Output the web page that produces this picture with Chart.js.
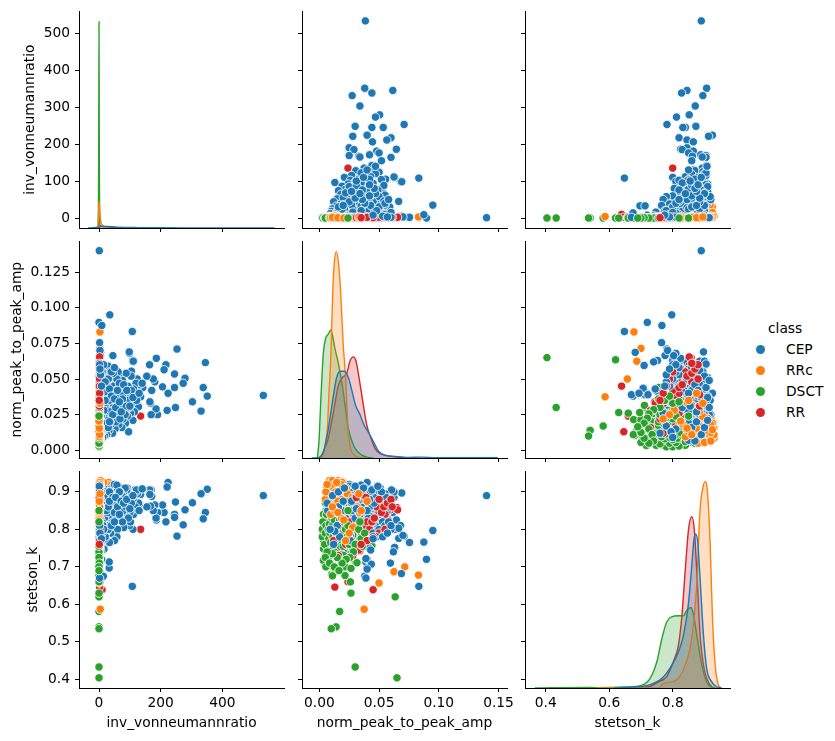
<!DOCTYPE html>
<html>
<head>
<meta charset="utf-8">
<title>pairplot</title>
<script src="https://cdn.jsdelivr.net/npm/chart.js@4"></script>
<style>
  body { margin: 0; background: #fff; font-family: "DejaVu Sans", sans-serif; color: #000; }
  canvas { position: absolute; }
  .leg { position: absolute; font-size: 13.8px; line-height: 16px; white-space: nowrap; }
  .dot { position: absolute; width: 9px; height: 9px; border-radius: 50%; }
</style>
</head>
<body>
<div id="page" style="position:relative;width:835px;height:741px;overflow:hidden"></div>
<script>
// inv_vonneumannratio, norm_peak_to_peak_amp, stetson_k per class (same index = same star)
var cepInv = [533,351,345,338,331,303,279,273,253,248,
  245,245,224,221,217,211,206,190,186,185,
  181,176,171,169,167,164,165,155,142,135,
  131,124,112,108,105,110,99,98,111,1,
  0,9,35,2,5,4,3,2,2,1,
  45,75,52,51,128,125,120,118,115,112,
  110,106,104,102,100,98,96,94,92,90,
  88,86,84,82,80,78,76,74,72,70,
  68,66,64,62,60,58,56,54,52,50,
  48,46,44,42,40,38,36,34,33,33,
  32,30,28,26,25,24,22,21,20,18,
  17,16,15,14,14,12,11,10,9,8,
  8,7,6,6,5,5,4,4,3,3,
  3,2,2,2,2,1,1,1,1,12,
  20,30,6,35,45,50,58,85,122,140,
  15,25,35,45,55,65,75,85,95,105,
  18,28,38,48,58,68,78,88,12,22,
  10,16,26,36,46,56,66,76,6,4,
  5,8,12,15,18,22,25,28,32,36,
  3,6,10,14,18,24,28,34,40,44,
  2,4,7,10,13,16,20,24,30,34,
  1,2,3,5,8,1,2,3,1,2,
  50,54,60,66,72,80,90,100,110,130,
  1,2,1,3,1,1,2,1,2,1,
  30,40,20,10,15,50,5,2,3,8];
var cepAmp = [.0385,.038,.0615,.044,.0275,.034,.0505,.047,.071,.03,
  .0535,.044,.04,.028,.06,.0565,.0445,.025,.0645,.029,
  .048,.05,.042,.025,.033,.06,.034,.052,.044,.0375,
  .046,.05,.0625,.0833,.0555,.063,.068,.069,.0625,.14,
  .0897,.0875,.095,.0755,.0687,.0665,.07,.063,.062,.0595,
  .0664,.0525,.0547,.047,.0305,.04,.047,.036,.027,.043,
  .021,.033,.052,.026,.039,.03,.013,.045,.024,.035,
  .054,.019,.028,.041,.032,.022,.049,.016,.037,.026,
  .043,.031,.018,.055,.024,.036,.028,.047,.015,.033,
  .021,.04,.012,.029,.051,.018,.035,.024,.04,.039,
  .014,.045,.022,.031,.011,.054,.017,.037,.027,.01,
  .043,.0425,.02,.038,.033,.009,.05,.025,.015,.04,
  .03,.0125,.055,.02,.035,.008,.045,.0415,.018,.028,
  .0435,.01,.05,.023,.039,.04,.039,.043,.015,.06,
  .057,.059,.0605,.055,.03,.025,.035,.038,.035,.047,
  .034,.04,.03,.045,.02,.038,.03,.025,.035,.042,
  .048,.036,.042,.028,.05,.022,.04,.031,.028,.044,
  .035,.022,.048,.02,.054,.042,.047,.036,.05,.025,
  .022,.027,.017,.03,.025,.03,.021,.028,.035,.027,
  .036,.043,.047,.052,.041,.046,.05,.043,.038,.025,
  .03,.033,.024,.02,.015,.028,.035,.019,.016,.02,
  .045,.053,.056,.058,.052,.012,.017,.013,.035,.026,
  .036,.03,.042,.034,.027,.046,.042,.031,.037,.04,
  .011,.007,.0065,.016,.009,.021,.03,.037,.044,.049,
  .05,.055,.048,.055,.06,.058,.053,.06,.057,.045];
var cepK = [.89,.907,.845,.828,.895,.871,.852,.812,.782,.873,
  .84,.832,.925,.913,.82,.845,.865,.845,.825,.83,
  .865,.85,.888,.905,.862,.905,.893,.86,.907,.893,
  .868,.898,.885,.648,.838,.8,.81,.897,.9,.89,
  .72,.766,.797,.765,.682,.776,.784,.752,.74,.71,
  .803,.88,.86,.85,.87,.895,.9,.86,.905,.84,
  .88,.885,.85,.82,.845,.895,.875,.86,.91,.905,
  .87,.865,.84,.885,.805,.895,.845,.88,.91,.86,
  .825,.875,.85,.895,.8,.78,.905,.86,.87,.77,
  .84,.88,.86,.825,.91,.79,.85,.765,.697,.713,
  .895,.87,.815,.9,.845,.83,.875,.795,.855,.8,
  .815,.747,.91,.675,.835,.83,.86,.885,.775,.72,
  .805,.855,.87,.74,.785,.81,.89,.75,.825,.895,
  .707,.875,.84,.86,.67,.694,.722,.745,.8,.87,
  .85,.875,.905,.895,.91,.92,.918,.91,.905,.908,
  .87,.84,.83,.82,.855,.865,.89,.875,.83,.87,
  .9,.88,.87,.86,.89,.9,.85,.86,.845,.855,
  .81,.83,.795,.9,.865,.835,.9,.82,.9,.915,
  .85,.87,.84,.895,.9,.87,.88,.85,.865,.89,
  .88,.86,.875,.89,.83,.885,.845,.9,.88,.885,
  .83,.81,.795,.82,.81,.785,.775,.85,.86,.875,
  .79,.82,.885,.86,.9,.76,.78,.795,.76,.77,
  .845,.885,.86,.84,.875,.87,.88,.855,.89,.85,
  .89,.85,.87,.9,.8,.91,.915,.91,.905,.915,
  .8,.81,.78,.79,.8,.82,.78,.81,.79,.775];

var rrcInv = [3,3,3,1,4,31,35,2,2,1,
  1,2,1,1,1,0,3,1,5,2,
  0,1,4,2,1,0,6,2,1,3,
  0,2,1,8,1,3,0,2,1,4,
  2,1,0,12,3,1,2,0,5,1,
  2,0,1,3,15,1,2,0,1,1,
  2,0,1,3,0,1,2,4,1,0,
  1,2,0,1,3,0,1,2,0,1,
  2,4,1,0,2,1,3,0,1,5,
  2,1,0,3,1,2,0,1,7,2,
  1,0,2,1,0,1,2,0,1,1,
  2,1,0,1,0,2,1,0,1,3];
var rrcAmp = [.083,.0715,.0625,.05,.0375,.02,.018,.02,.016,.0085,
  .0155,.013,.029,.016,.01,.012,.014,.018,.011,.0085,
  .0065,.0095,.017,.021,.0125,.014,.0155,.019,.0105,.0075,
  .0175,.0135,.012,.016,.02,.0105,.008,.0225,.0145,.013,
  .015,.0245,.011,.019,.0175,.007,.024,.0165,.0205,.006,
  .0125,.0095,.026,.0225,.014,.0115,.018,.027,.031,.015,
  .0205,.012,.023,.019,.0155,.0135,.0095,.021,.017,.0085,
  .008,.01,.012,.014,.016,.018,.02,.022,.024,.007,
  .009,.011,.013,.015,.017,.019,.021,.006,.016,.018,
  .012,.014,.01,.0085,.0125,.0145,.0165,.0185,.0135,.0155,
  .005,.0055,.0065,.0225,.0235,.0275,.0315,.0335,.028,.025,
  .035,.022,.0185,.0095,.013,.011,.0155,.0205,.04,.033];
var rrcK = [.678,.7,.687,.657,.587,.925,.918,.91,.905,.876,
  .893,.918,.89,.796,.9,.905,.91,.895,.92,.93,
  .885,.91,.925,.9,.895,.885,.93,.915,.865,.9,
  .875,.88,.925,.92,.87,.89,.915,.885,.9,.905,
  .86,.875,.91,.928,.89,.895,.905,.92,.91,.91,
  .87,.855,.865,.92,.925,.88,.85,.84,.83,.82,
  .81,.84,.76,.78,.855,.915,.925,.895,.9,.89,
  .9,.88,.87,.875,.885,.905,.89,.895,.885,.905,
  .92,.93,.9,.915,.91,.925,.88,.895,.86,.92,
  .91,.885,.89,.885,.92,.925,.895,.88,.9,.875,
  .88,.9,.92,.91,.895,.885,.86,.845,.805,.79,
  .85,.77,.83,.84,.85,.86,.845,.825,.875,.895];

var dsctInv = [0,0,0,0,0,0,0,0,0,0,
  0,0,0,0,1,0,0,1,0,0,
  0,1,0,1,0,0,2,0,0,1,
  0,0,0,0,0,1,0,0,1,0,
  0,2,0,0,1,0,1,0,0,2,
  0,1,0,0,1,0,3,0,1,0,
  0,2,0,1,0,0,1,0,0,0,
  1,0,0,2,0,0,1,0,0,0,
  0,1,0,0,0,2,0,0,1,0,
  0,1,0,0,1,0,0,2,0,1,
  0,0,1,0,0,2,0,1,0,0,
  1,0,0,2,0,1,0,0,1,0,
  0,2,0,1,0,0,1,0,0,2,
  0,1,0,0,1,0,0,1,0,0,
  0,1,0,0,1,0,0,1,0,0];
var dsctAmp = [.065,.03,.014,.01,.017,.0635,.0265,.026,.0215,.0103,
  .013,.0034,.01,.0215,.03,.0095,.044,.031,.0235,.016,
  .0045,.0117,.0165,.0215,.0257,.0034,.0042,.011,.0215,.0187,
  .0053,.0103,.0315,.0265,.011,.0105,.025,.032,.0265,.022,
  .016,.017,.01,.0035,.0035,.0045,.0125,.006,.008,.007,
  .0055,.009,.012,.014,.015,.018,.02,.006,.003,.004,
  .007,.013,.009,.0185,.0225,.024,.0105,.0135,.0075,.015,
  .005,.004,.0165,.0195,.0125,.0085,.0275,.029,.0065,.011,
  .0035,.0145,.0205,.0175,.0055,.008,.012,.0035,.0155,.006,
  .0025,.0025,.003,.0045,.005,.0055,.006,.007,.0075,.008,
  .0085,.009,.0095,.0105,.011,.0115,.012,.0125,.013,.0135,
  .014,.0145,.015,.0155,.016,.0165,.017,.0175,.018,.0185,
  .019,.0195,.02,.0205,.021,.022,.023,.024,.025,.026,
  .027,.028,.03,.0285,.0255,.0225,.019,.015,.011,.0065,
  .005,.0085,.0125,.0165,.033,.035,.036,.038,.034,.024];
var dsctK = [.404,.433,.54,.535,.581,.62,.63,.66,.677,.68,
  .685,.717,.707,.7,.714,.752,.756,.77,.738,.747,
  .834,.831,.835,.884,.822,.804,.778,.763,.804,.795,
  .74,.783,.711,.696,.676,.703,.734,.762,.815,.879,
  .832,.792,.748,.771,.795,.825,.802,.76,.82,.79,
  .85,.81,.775,.82,.765,.78,.815,.81,.785,.755,
  .77,.795,.845,.75,.765,.79,.86,.735,.72,.805,
  .87,.815,.865,.85,.84,.73,.75,.785,.785,.795,
  .748,.78,.73,.72,.7,.76,.815,.84,.85,.83,
  .78,.8,.82,.76,.79,.81,.84,.74,.8,.775,
  .815,.79,.765,.83,.81,.78,.75,.825,.77,.8,
  .845,.76,.785,.81,.775,.8,.825,.755,.81,.835,
  .77,.79,.755,.82,.775,.8,.78,.81,.76,.785,
  .77,.8,.76,.74,.725,.72,.71,.725,.735,.74,
  .725,.71,.7,.69,.8,.775,.755,.79,.82,.85];

var rrInv = [135,10,2,3,2,1,2,3,2,2,
  4,1,2,1,5,3,2,1,6,2,
  1,3,1,2,1,4,2,6,3,2,
  1,5,2,8,3,1,4,2,6,1,
  3,2,1,5,2,1,3,7,2,1,
  12,4,2,1,3,2,1,5,2,1,
  2,1,3,1,2,4,1,2,3,1,
  2,5,1,2,3,1,2,4,1,2,
  3,1,2,1,3,2,1,4,2,1,
  3,2,1,2,1,3,2,1,2,1,
  4,2,1,3,2,1,2,5,2,1,
  2,1,3,2,1];
var rrAmp = [.024,.045,.013,.024,.0042,.016,.065,.0587,.057,.0416,
  .0293,.0237,.0187,.0223,.0274,.0335,.0397,.0388,.0363,.0288,
  .0223,.034,.0595,.0655,.0575,.056,.05,.045,.048,.042,
  .038,.035,.032,.03,.0275,.026,.024,.02,.03,.0195,
  .036,.031,.028,.025,.018,.034,.04,.042,.027,.029,
  .033,.037,.0245,.0215,.044,.047,.015,.026,.0305,.0395,
  .015,.017,.019,.021,.023,.025,.027,.029,.031,.033,
  .035,.037,.039,.041,.043,.045,.047,.049,.051,.053,
  .055,.02,.024,.026,.028,.03,.032,.034,.036,.038,
  .04,.042,.044,.018,.014,.022,.016,.012,.028,.033,
  .046,.048,.052,.054,.057,.06,.061,.05,.039,.031,
  .05,.045,.055,.04,.035];
var rrK = [.8,.639,.646,.66,.718,.694,.858,.858,.83,.887,
  .866,.866,.86,.846,.842,.828,.84,.86,.796,.81,
  .787,.743,.852,.852,.825,.85,.83,.865,.875,.825,
  .845,.87,.855,.84,.875,.86,.835,.85,.88,.82,
  .815,.79,.8,.775,.77,.85,.86,.87,.83,.845,
  .862,.855,.82,.84,.85,.855,.75,.805,.825,.875,
  .83,.845,.8,.87,.85,.865,.85,.86,.84,.875,
  .84,.83,.85,.865,.835,.85,.87,.845,.86,.875,
  .84,.775,.8,.82,.785,.81,.77,.795,.77,.81,
  .82,.8,.82,.81,.79,.76,.73,.77,.73,.745,
  .83,.86,.845,.86,.87,.88,.86,.88,.885,.885,
  .79,.78,.8,.77,.76];

// density curves on the diagonal (relative height, tallest curve of a panel = 1)
var cepInvKdeX = [-36,-10,10,30,60,100,130,200,300,569];
var cepInvKdeY = [0,.003,.009,.007,.004,.003,.002,.001,.0005,.0002];
var rrcInvKdeX = [-6,-3,-1,0,1,3,6,12,20,35];
var rrcInvKdeY = [0,.02,.09,.13,.12,.07,.03,.012,.003,0];
var dsctInvKdeX = [-2.5,-1,0,1,2.5];
var dsctInvKdeY = [0,.35,1,.35,0];
var rrInvKdeX = [-5,0,10,50,150];
var rrInvKdeY = [0,.014,.008,.002,0];

var cepAmpKdeX = [-.0064,-.0008,.0034,.0061,.0089,.0117,.0145,.0173,.021,.0243,.0271,.0304,.0341,.0374,.0416,.0453,.0494,.055,.0634,.0746,.0858,.0969,.1494];
var cepAmpKdeY = [0,.002,.03,.095,.19,.3,.39,.42,.42,.39,.33,.255,.21,.16,.12,.08,.034,.014,.008,.003,.004,.002,.001];
var rrcAmpKdeX = [.0006,.0034,.0053,.0067,.008,.0098,.0112,.0126,.0142,.0159,.0179,.0199,.0221,.0237,.0257,.0285,.0327,.038];
var rrcAmpKdeY = [0,.02,.08,.14,.3,.52,.8,.95,1,.95,.8,.56,.38,.175,.06,.02,.003,0];
var dsctAmpKdeX = [-.0017,-.0003,.0014,.0034,.0053,.0075,.0095,.0112,.0131,.0159,.0187,.0215,.0237,.0265,.0299,.0355,.0411,.0453];
var dsctAmpKdeY = [0,.08,.3,.51,.58,.6,.62,.59,.53,.46,.37,.26,.16,.095,.047,.014,.003,0];
var rrAmpKdeX = [.0014,.0047,.0075,.0117,.0159,.0193,.0229,.0257,.0285,.0307,.0335,.0369,.0397,.0433,.0466,.0508,.0578,.069,.0774];
var rrAmpKdeY = [0,.05,.095,.22,.35,.39,.41,.47,.49,.47,.38,.255,.16,.095,.047,.022,.01,.002,0];

var cepKKdeX = [.618,.671,.724,.766,.797,.818,.834,.85,.86,.867,.873,.879,.887,.897,.907,.923,.939,.953];
var cepKKdeY = [0,.005,.014,.047,.11,.175,.255,.415,.59,.72,.745,.705,.51,.255,.095,.03,.006,.002];
var rrcKKdeX = [.56,.755,.771,.797,.818,.839,.86,.876,.886,.895,.902,.909,.918,.925,.934,.944,.953];
var rrcKKdeY = [0,0,.022,.03,.047,.11,.24,.51,.86,.97,1,.96,.7,.35,.11,.014,0];
var dsctKKdeX = [.366,.524,.555,.65,.703,.729,.75,.766,.781,.797,.818,.834,.844,.857,.865,.876,.892,.907,.923,.934];
var dsctKKdeY = [0,.003,.002,.005,.014,.047,.127,.24,.32,.345,.35,.35,.376,.39,.36,.255,.11,.03,.003,0];
var rrKKdeX = [.618,.724,.755,.781,.802,.818,.829,.839,.85,.86,.868,.877,.887,.897,.907,.923,.934];
var rrKKdeY = [0,.006,.03,.055,.127,.207,.35,.56,.77,.83,.77,.53,.24,.11,.047,.006,0];

var invTicks = [0,200,400];
var invTickLabels = ['0','200','400'];
var invRowTicks = [0,100,200,300,400,500];
var invRowLabels = ['0','100','200','300','400','500'];
var ampColTicks = [0,.05,.1,.15];
var ampColLabels = ['0.00','0.05','0.10','0.15'];
var ampRowTicks = [0,.025,.05,.075,.1,.125];
var ampRowLabels = ['0.000','0.025','0.050','0.075','0.100','0.125'];
var kColTicks = [.4,.6,.8];
var kColLabels = ['0.4','0.6','0.8'];
var kRowTicks = [.4,.5,.6,.7,.8,.9];
var kRowLabels = ['0.4','0.5','0.6','0.7','0.8','0.9'];

var classNames = ['CEP','RRc','DSCT','RR'];
var colors = ['#1f77b4','#ff7f0e','#2ca02c','#d62728'];
var fills = ['rgba(31,119,180,.25)','rgba(255,127,14,.25)','rgba(44,160,44,.25)','rgba(214,39,40,.25)'];

var FONT = {family: '"DejaVu Sans"', size: 13.8};

var classes = [
  {inv: cepInv, amp: cepAmp, k: cepK},
  {inv: rrcInv, amp: rrcAmp, k: rrcK},
  {inv: dsctInv, amp: dsctAmp, k: dsctK},
  {inv: rrInv, amp: rrAmp, k: rrK}
];

// stars are drawn mixed, not class by class, so merge them by position in their list
var stars = [];
classes.forEach(function (c, ci) {
  c.inv.forEach(function (v, i) {
    stars.push({inv: v, amp: c.amp[i], k: c.k[i], color: colors[ci], pos: (i + ci * .25) / c.inv.length});
  });
});
stars.sort(function (a, b) { return a.pos - b.pos; });

var kdes = {
  inv: [[cepInvKdeX,cepInvKdeY],[rrcInvKdeX,rrcInvKdeY],[dsctInvKdeX,dsctInvKdeY],[rrInvKdeX,rrInvKdeY]],
  amp: [[cepAmpKdeX,cepAmpKdeY],[rrcAmpKdeX,rrcAmpKdeY],[dsctAmpKdeX,dsctAmpKdeY],[rrAmpKdeX,rrAmpKdeY]],
  k: [[cepKKdeX,cepKKdeY],[rrcKKdeX,rrcKKdeY],[dsctKKdeX,dsctKKdeY],[rrKKdeX,rrKKdeY]]
};

var cols = [
  {key: 'inv', left: 79, name: 'inv_vonneumannratio', min: -64.9, max: 600, ticks: invTicks, labels: invTickLabels},
  {key: 'amp', left: 302, name: 'norm_peak_to_peak_amp', min: -.0145, max: .1571, ticks: ampColTicks, labels: ampColLabels},
  {key: 'k', left: 525, name: 'stetson_k', min: .3348, max: .9805, ticks: kColTicks, labels: kColLabels}
];
var rows = [
  {key: 'inv', top: 10, name: 'inv_vonneumannratio', min: -26.9, max: 559, ticks: invRowTicks, labels: invRowLabels, titlePad: 21.7},
  {key: 'amp', top: 240, name: 'norm_peak_to_peak_amp', min: -.0054, max: .1466, ticks: ampRowTicks, labels: ampRowLabels, titlePad: 8.7},
  {key: 'k', top: 470, name: 'stetson_k', min: .3769, max: .9549, ticks: kRowTicks, labels: kRowLabels, titlePad: 24.7}
];

var PLOT_W = 205, PLOT_H = 218;

function axis(def, showLabels, titlePad, isX, size) {
  return {
    type: 'linear',
    min: def.min,
    max: def.max,
    afterBuildTicks: function (s) { s.ticks = def.ticks.map(function (v) { return {value: v}; }); },
    afterFit: function (s) { if (isX) s.height = size; else s.width = size; },
    grid: {drawOnChartArea: false, tickLength: 4, tickColor: '#000', lineWidth: 1},
    border: {color: '#000', width: 1},
    ticks: {
      color: '#000', font: FONT, padding: isX ? 3 : 5, autoSkip: false, maxRotation: 0, minRotation: 0,
      callback: function (v, i) { return showLabels ? def.labels[i] : ''; }
    },
    title: {
      display: showLabels, text: def.name, color: '#000', font: FONT,
      padding: isX ? {top: 0, bottom: titlePad} : {top: titlePad, bottom: 0}
    }
  };
}

function panel(r, c) {
  var col = cols[c], row = rows[r];
  var L = c == 0 ? 79 : 8, B = r == 2 ? 50 : 18, T = 12, R = 16;
  var cv = document.createElement('canvas');
  cv.width = L + PLOT_W + R;
  cv.height = T + PLOT_H + B;
  cv.style.left = (col.left - L) + 'px';
  cv.style.top = (row.top - T) + 'px';
  document.getElementById('page').appendChild(cv);

  var scales = {
    x: axis(col, r == 2, 6.7, true, B),
    y: axis(row, c == 0, row.titlePad, false, L)
  };
  var datasets;
  if (r == c) {
    // first dataset is painted last, blue ends up on top like the original
    datasets = kdes[col.key].map(function (d, i) {
      return {
        label: classNames[i], yAxisID: 'kde',
        data: d[0].map(function (x, j) { return {x: x, y: d[1][j]}; }),
        borderColor: colors[i], backgroundColor: fills[i], borderWidth: 1.4,
        fill: 'origin', pointRadius: 0, cubicInterpolationMode: 'monotone'
      };
    });
    scales.kde = {display: false, min: 0, max: 1.05};
  } else {
    datasets = [{
      data: stars.map(function (s) { return {x: s[col.key], y: s[row.key]}; }),
      pointBackgroundColor: stars.map(function (s) { return s.color; }),
      pointBorderColor: 'rgba(255,255,255,.85)',
      pointBorderWidth: 1,
      pointRadius: 4.2
    }];
  }
  new Chart(cv, {
    type: r == c ? 'line' : 'scatter',
    data: {datasets: datasets},
    options: {
      responsive: false,
      animation: false,
      layout: {padding: {top: T, right: R, left: 0, bottom: 0}},
      plugins: {legend: {display: false}, tooltip: {enabled: false}},
      scales: scales
    }
  });
}

for (var r = 0; r < 3; r++) for (var c = 0; c < 3; c++) panel(r, c);

// legend on the right of the figure
function legendText(txt, x, y) {
  var d = document.createElement('div');
  d.className = 'leg';
  d.textContent = txt;
  d.style.left = x + 'px';
  d.style.top = (y - 8) + 'px';
  document.getElementById('page').appendChild(d);
}
legendText('class', 768, 328);
classNames.forEach(function (n, i) {
  var y = 349 + i * 21;
  var dot = document.createElement('div');
  dot.className = 'dot';
  dot.style.background = colors[i];
  dot.style.left = '755.5px';
  dot.style.top = (y - 4.5) + 'px';
  document.getElementById('page').appendChild(dot);
  legendText(n, 786, y);
});
</script>
</body>
</html>
